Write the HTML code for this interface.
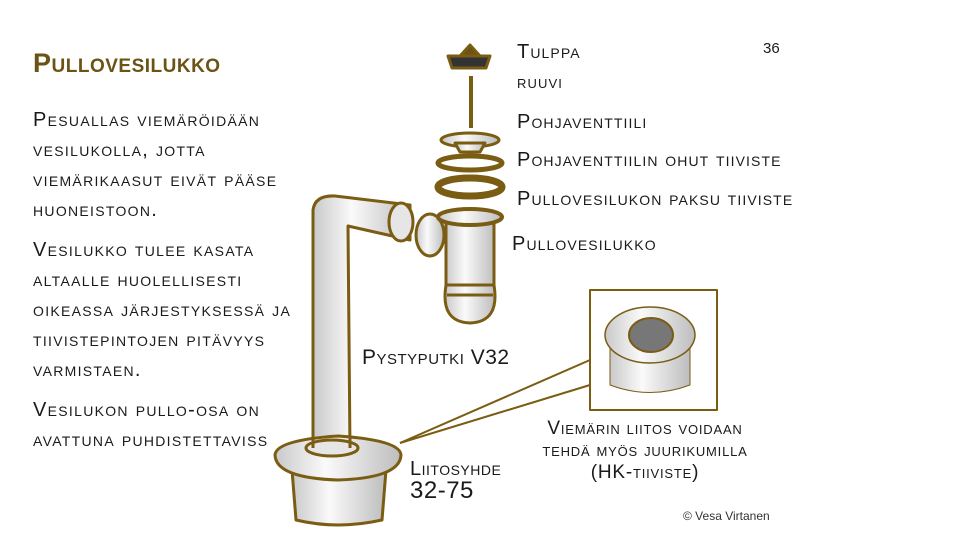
<!DOCTYPE html>
<html><head><meta charset="utf-8"><style>
body{margin:0;width:960px;height:540px;background:#fff;overflow:hidden;position:relative;font-family:"Liberation Sans",sans-serif}
.t{position:absolute;font-variant:small-caps;color:#1a1a1a;white-space:nowrap;font-size:20px;letter-spacing:1.3px}
.r{letter-spacing:1.1px}
</style></head><body>
<svg width="960" height="540" style="position:absolute;left:0;top:0">
<defs>
<linearGradient id="g" x1="0" x2="1"><stop offset="0" stop-color="#c9c9c9"/><stop offset=".4" stop-color="#fafafa"/><stop offset="1" stop-color="#bdbdbd"/></linearGradient>
</defs>
<g stroke="#7a5c12" stroke-width="3" fill="url(#g)" stroke-linejoin="round">
<path d="M448 56 L490 56 L486 68 L452 68 Z" fill="#333"/>
<path d="M460 56 L470 45 L480 56 Z" fill="#6b5314"/>
<line x1="471" y1="76" x2="471" y2="128" stroke-width="4"/>
<ellipse cx="470" cy="140" rx="29" ry="7"/>
<path d="M455 143 L485 143 L480 152 L460 152 Z"/>
<ellipse cx="470" cy="163" rx="32" ry="7" fill="none" stroke-width="5"/>
<ellipse cx="470" cy="187" rx="32" ry="9" fill="none" stroke-width="7"/>
<ellipse cx="430" cy="235" rx="14" ry="21"/>
<path d="M446 220 L494 220 L494 285 Q500 322 470 323 Q440 322 446 285 Z"/>
<path d="M446 285 L494 285 M447 295 L493 295"/>
<ellipse cx="470" cy="217" rx="32" ry="8" stroke-width="4"/>
<path d="M313 450 L313 210 Q315 195 335 196 L410 205 L410 240 L348 226 L350 450 Z"/>
<ellipse cx="401" cy="222" rx="12" ry="19" fill="#e6e6e6"/>
<path d="M292 470 L386 470 L382 520 Q338 530 296 520 Z"/>
<path d="M275 455 Q276 440 338 436 Q400 440 401 455 Q400 478 338 480 Q276 478 275 455 Z"/>
<ellipse cx="332" cy="448" rx="26" ry="8" fill="#e6e6e6"/>
<line x1="313" y1="448" x2="313" y2="436"/><line x1="350" y1="448" x2="350" y2="436"/>
<rect x="590" y="290" width="127" height="120" fill="#fff" stroke-width="2"/>
<path d="M610 345 L610 385 Q650 400 690 385 L690 345 Z" stroke-width="1"/>
<ellipse cx="650" cy="335" rx="45" ry="28" stroke-width="1.5"/>
<ellipse cx="651" cy="335" rx="22" ry="17" fill="#777" stroke-width="2"/>
</g>
<g stroke="#7a5c12" stroke-width="2"><line x1="400" y1="443" x2="590" y2="360"/><line x1="400" y1="443" x2="590" y2="385"/></g>
</svg>
<div class="t" style="left:33px;top:48px;font-size:27px;color:#6b5314;font-weight:bold;letter-spacing:0.5px">Pullovesilukko</div>
<div class="t" style="left:33px;top:105px;line-height:30px">Pesuallas viemäröidään<br>vesilukolla, jotta<br>viemärikaasut eivät pääse<br>huoneistoon.</div>
<div class="t" style="left:33px;top:235px;line-height:30px">Vesilukko tulee kasata<br>altaalle huolellisesti<br>oikeassa järjestyksessä ja<br>tiivistepintojen pitävyys<br>varmistaen.</div>
<div class="t" style="left:33px;top:395px;line-height:30px">Vesilukon pullo-osa on<br>avattuna puhdistettaviss</div>
<div class="t r" style="left:517px;top:41px">Tulppa</div>
<div class="t r" style="left:517px;top:72px;font-size:18px">ruuvi</div>
<div class="t r" style="left:517px;top:111px">Pohjaventtiili</div>
<div class="t r" style="left:517px;top:149px">Pohjaventtiilin ohut tiiviste</div>
<div class="t r" style="left:517px;top:188px">Pullovesilukon paksu tiiviste</div>
<div class="t r" style="left:512px;top:233px">Pullovesilukko</div>
<div class="t" style="left:362px;top:346px;font-size:21px;letter-spacing:0.5px">Pystyputki V32</div>
<div class="t" style="left:410px;top:458px;line-height:22px;font-size:20px;letter-spacing:0.5px">Liitosyhde<br><span style="font-size:24px">32-75</span></div>
<div class="t" style="left:520px;top:418px;line-height:22px;text-align:center;width:250px;font-size:19px;letter-spacing:0.8px">Viemärin liitos voidaan<br>tehdä myös juurikumilla<br>(HK-tiiviste)</div>
<div class="t" style="left:763px;top:40px;font-variant:normal;font-size:15px;letter-spacing:0">36</div>
<div class="t" style="left:683px;top:509px;font-variant:normal;font-size:12px;color:#333;letter-spacing:0">© Vesa Virtanen</div>
</body></html>
